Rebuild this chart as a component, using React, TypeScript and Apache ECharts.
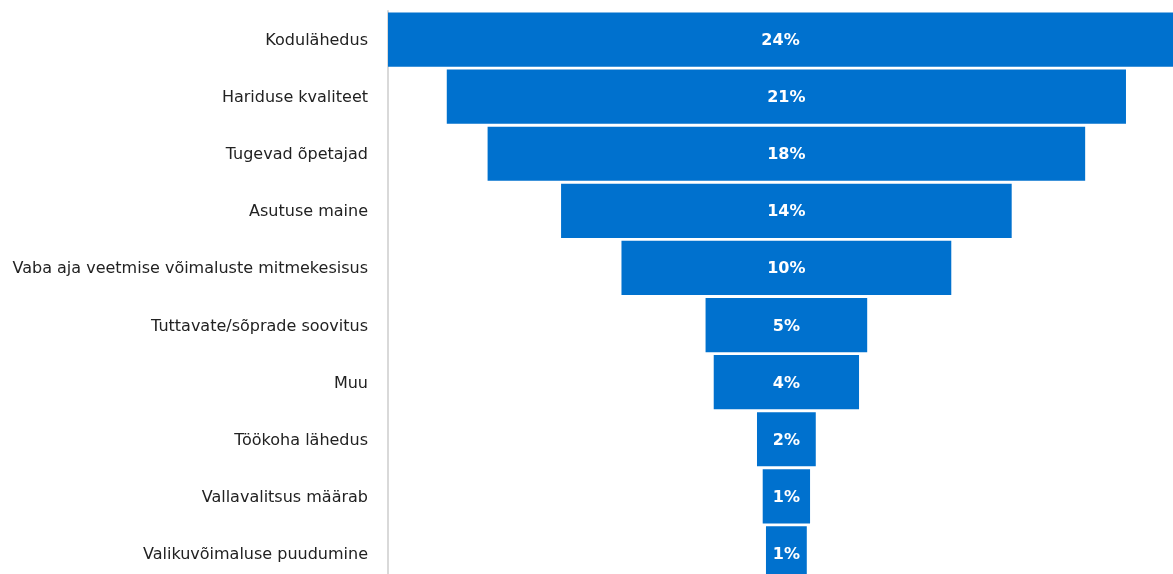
import React, { useEffect, useRef } from "react";
import * as echarts from "echarts";

const categories = [
  "Kodulähedus",
  "Hariduse kvaliteet",
  "Tugevad õpetajad",
  "Asutuse maine",
  "Vaba aja veetmise võimaluste mitmekesisus",
  "Tuttavate/sõprade soovitus",
  "Muu",
  "Töökoha lähedus",
  "Vallavalitsus määrab",
  "Valikuvõimaluse puudumine",
];
const values = [24.4, 20.8, 18.3, 13.8, 10.1, 4.95, 4.45, 1.8, 1.45, 1.25];

const CENTER = 12.2;
const AXIS_MAX = 24.04;

export default function App() {
  const ref = useRef<HTMLDivElement>(null);
  useEffect(() => {
    if (!ref.current) return;
    const chart = echarts.init(ref.current, null, { renderer: "svg" });
    chart.setOption({
      animation: false,
      grid: { left: 388, right: 0, top: 11, height: 571, containLabel: false },
      xAxis: {
        type: "value",
        min: 0,
        max: AXIS_MAX,
        show: false,
      },
      yAxis: {
        type: "category",
        inverse: true,
        data: categories,
        axisLine: { show: true, lineStyle: { color: "#d9d9d9", width: 2 } },
        axisTick: { show: false },
        axisLabel: {
          margin: 20,
          color: "#222",
          fontSize: 16,
          fontFamily: "'DejaVu Sans', sans-serif",
        },
      },
      series: [
        {
          type: "bar",
          stack: "f",
          barCategoryGap: "5%",
          itemStyle: { color: "transparent" },
          data: values.map((v) => CENTER - v / 2),
          silent: true,
        },
        {
          type: "bar",
          stack: "f",
          barCategoryGap: "5%",
          itemStyle: { color: "#0071ce" },
          data: values,
          label: {
            show: true,
            position: "inside",
            color: "#fff",
            fontSize: 16,
            fontWeight: "bold",
            fontFamily: "'DejaVu Sans', sans-serif",
            formatter: (p: any) => Math.round(p.value) + "%",
          },
        },
      ],
    });
    return () => chart.dispose();
  }, []);
  return (
    <div
      ref={ref}
      style={{ position: "fixed", left: 0, top: 0, width: 1173, height: 590 }}
    />
  );
}
